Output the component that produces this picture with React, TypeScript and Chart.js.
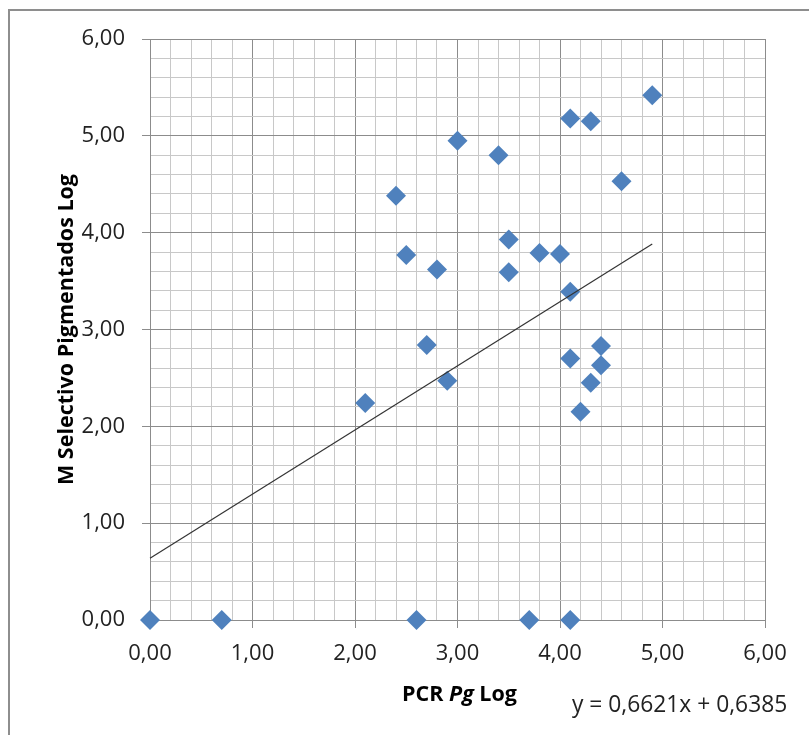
import React, { useEffect, useRef } from 'react';
import { Chart, registerables } from 'chart.js';

Chart.register(...registerables);

const pcrPgLog = [0, 0.7, 2.6, 3.7, 4.1, 2.1, 2.4, 2.5, 2.8, 2.7, 2.9, 3.0, 3.4, 3.5, 3.5, 3.8, 4.0, 4.1, 4.1, 4.3, 4.6, 4.9, 4.4, 4.1, 4.4, 4.3, 4.2];
const mSelectivoLog = [0, 0, 0, 0, 0, 2.24, 4.38, 3.77, 3.62, 2.84, 2.47, 4.95, 4.8, 3.93, 3.59, 3.79, 3.78, 3.39, 5.18, 5.15, 4.53, 5.42, 2.83, 2.7, 2.63, 2.45, 2.15];
const trendSlope = 0.6621;
const trendIntercept = 0.6385;
const axisMin = 0;
const axisMax = 6;
const minorStep = 0.2;
const xTitleParts = [
  { text: 'PCR ', italic: false },
  { text: 'Pg', italic: true },
  { text: ' Log', italic: false },
];
const yTitle = 'M Selectivo Pigmentados Log';
const equationText = 'y = 0,6621x + 0,6385';

const FONT = "'Open Sans', sans-serif";
const MAJOR = '#8c8c8c';
const MINOR = '#c8c8c8';

const isMajor = (v: number) => Math.abs(v - Math.round(v)) < 1e-6;
const fmt = (v: number) => v.toFixed(2).replace('.', ',');

export default function App() {
  const ref = useRef<HTMLCanvasElement | null>(null);

  useEffect(() => {
    document.body.style.margin = '0';
    const canvas = ref.current;
    if (!canvas) return;

    const points = pcrPgLog.map((x, i) => ({ x, y: mSelectivoLog[i] }));
    const xMaxData = Math.max(...pcrPgLog);
    const trend = [
      { x: 0, y: trendIntercept },
      { x: xMaxData, y: trendSlope * xMaxData + trendIntercept },
    ];

    const decor = {
      id: 'decor',
      afterDraw(chart: any) {
        const ctx = chart.ctx as CanvasRenderingContext2D;
        ctx.save();
        // frame
        ctx.strokeStyle = '#8e8e8e';
        ctx.lineWidth = 2;
        ctx.beginPath();
        ctx.moveTo(9, 735);
        ctx.lineTo(9, 10);
        ctx.lineTo(809, 10);
        ctx.stroke();
        // x title
        ctx.fillStyle = '#000';
        ctx.textBaseline = 'alphabetic';
        ctx.textAlign = 'left';
        const size = 21.5;
        const widths = xTitleParts.map((p) => {
          ctx.font = `${p.italic ? 'italic ' : ''}bold ${size}px ${FONT}`;
          return ctx.measureText(p.text).width;
        });
        const total = widths.reduce((a, b) => a + b, 0);
        const area = chart.chartArea;
        let x = (area.left + area.right) / 2 + 2 - total / 2;
        xTitleParts.forEach((p, i) => {
          ctx.font = `${p.italic ? 'italic ' : ''}bold ${size}px ${FONT}`;
          ctx.fillText(p.text, x, 701);
          x += widths[i];
        });
        // equation
        ctx.font = `22.8px ${FONT}`;
        ctx.fillStyle = '#222';
        ctx.fillText(equationText, 572, 712);
        ctx.restore();
      },
    };

    const chart = new Chart(canvas, {
      type: 'scatter',
      data: {
        datasets: [
          {
            type: 'line',
            label: 'Tendencia',
            data: trend,
            borderColor: '#333333',
            borderWidth: 1.2,
            pointRadius: 0,
            fill: false,
            order: 0,
            clip: false,
          } as any,
          {
            label: 'Datos',
            data: points,
            pointStyle: 'rectRot',
            pointRadius: 10,
            pointHoverRadius: 10,
            pointBackgroundColor: '#4F81BD',
            pointBorderColor: '#4F81BD',
            pointBorderWidth: 0,
            order: 1,
            clip: false,
          } as any,
        ],
      },
      options: {
        animation: false,
        responsive: false,
        maintainAspectRatio: false,
        layout: { padding: { left: 0, top: 39, right: 44, bottom: 0 } },
        plugins: {
          legend: { display: false },
          tooltip: { enabled: false },
        },
        scales: {
          x: {
            type: 'linear',
            min: axisMin,
            max: axisMax,
            afterFit: (s: any) => {
              s.height = 115;
            },
            ticks: {
              stepSize: minorStep,
              autoSkip: false,
              maxRotation: 0,
              padding: 13,
              color: '#222',
              font: { family: FONT, size: 22 },
              callback: (v: any) => (isMajor(Number(v)) ? fmt(Number(v)) : ''),
            },
            grid: {
              color: (c: any) => (c.tick && isMajor(c.tick.value) ? MAJOR : MINOR),
              tickColor: (c: any) => (c.tick && isMajor(c.tick.value) ? MAJOR : 'rgba(0,0,0,0)'),
              tickLength: 8,
              lineWidth: 1,
            },
            border: { color: MAJOR, width: 1 },
          },
          y: {
            type: 'linear',
            min: axisMin,
            max: axisMax,
            afterFit: (s: any) => {
              s.width = 150;
            },
            ticks: {
              stepSize: minorStep,
              autoSkip: false,
              padding: 17,
              color: '#222',
              font: { family: FONT, size: 22 },
              callback: (v: any) => (isMajor(Number(v)) ? fmt(Number(v)) : ''),
            },
            grid: {
              color: (c: any) => (c.tick && isMajor(c.tick.value) ? MAJOR : MINOR),
              tickColor: (c: any) => (c.tick && isMajor(c.tick.value) ? MAJOR : 'rgba(0,0,0,0)'),
              tickLength: 8,
              lineWidth: 1,
            },
            border: { color: MAJOR, width: 1 },
            title: {
              display: true,
              text: yTitle,
              color: '#000',
              font: { family: FONT, size: 21.5, weight: 'bold' },
              padding: { top: 54, bottom: 0 },
            },
          },
        },
      },
      plugins: [decor],
    });

    return () => chart.destroy();
  }, []);

  return (
    <div style={{ width: 809, height: 735, position: 'relative' }}>
      <canvas ref={ref} width={809} height={735} style={{ display: 'block', width: 809, height: 735 }} />
    </div>
  );
}
